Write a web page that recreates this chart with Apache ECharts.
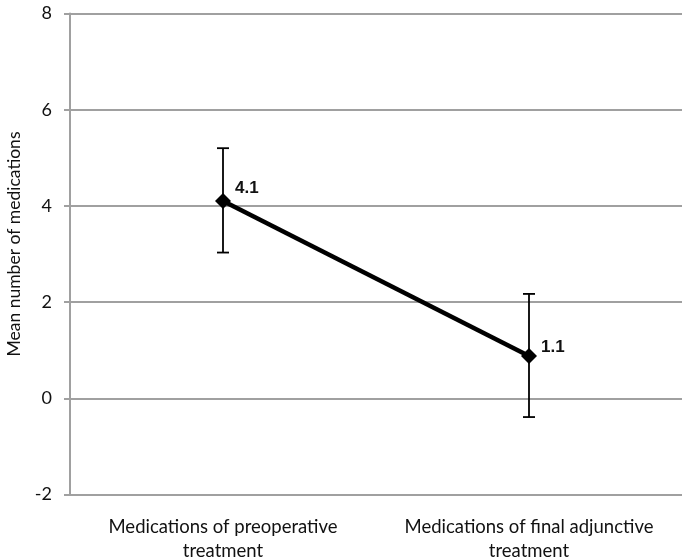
<!DOCTYPE html>
<html>
<head>
<meta charset="utf-8">
<script src="https://cdn.jsdelivr.net/npm/echarts@6/dist/echarts.min.js"></script>
<style>html,body{margin:0;padding:0;background:#fff}#c{width:685px;height:560px}</style>
</head>
<body>
<div id="c"></div>
<script>
var categories = ['Medications of preoperative\ntreatment', 'Medications of final adjunctive\ntreatment'];
var means = [4.1, 0.88];
var meanLabels = ['4.1', '1.1'];
var errLow = [3.03, -0.39];
var errHigh = [5.2, 2.17];

var chart = echarts.init(document.getElementById('c'), null, {renderer: 'canvas'});
var errData = categories.map(function (c, i) { return [i, errLow[i], errHigh[i]]; });
var labelOffsets = [[0, -13], [0, -9]];

chart.setOption({
  animation: false,
  grid: {left: 70, right: 3, top: 13.5, bottom: 65.5, outerBoundsMode: 'none', containLabel: false},
  xAxis: {
    type: 'category',
    data: categories,
    boundaryGap: true,
    axisLine: {show: false},
    axisTick: {show: false},
    axisLabel: {interval: 0, hideOverlap: false, color: '#111', fontFamily: 'Lato, "Open Sans", sans-serif', fontSize: 18.5, lineHeight: 24, margin: 21}
  },
  yAxis: {
    type: 'value',
    min: -2, max: 8, interval: 2,
    name: 'Mean number of medications',
    nameLocation: 'middle',
    nameGap: 47,
    nameTextStyle: {color: '#111', fontFamily: 'Lato, "Open Sans", sans-serif', fontSize: 17.5, padding: [0, 0, 0, 20]},
    axisLine: {show: true, lineStyle: {color: '#a0a0a0', width: 2}},
    axisTick: {show: true, length: 6, lineStyle: {color: '#a0a0a0', width: 2}},
    axisLabel: {color: '#111', fontFamily: 'Lato, "Open Sans", sans-serif', fontSize: 18, margin: 18},
    splitLine: {show: true, lineStyle: {color: '#a0a0a0', width: 2}}
  },
  series: [
    {
      type: 'custom',
      data: errData,
      z: 3,
      renderItem: function (params, api) {
        var x = api.value(0);
        var lo = api.coord([x, api.value(1)]);
        var hi = api.coord([x, api.value(2)]);
        var hw = 6;
        var st = {stroke: '#000', lineWidth: 1.8};
        return {
          type: 'group',
          children: [
            {type: 'line', shape: {x1: lo[0], y1: lo[1], x2: hi[0], y2: hi[1]}, style: st},
            {type: 'line', shape: {x1: lo[0] - hw, y1: lo[1], x2: lo[0] + hw, y2: lo[1]}, style: st},
            {type: 'line', shape: {x1: hi[0] - hw, y1: hi[1], x2: hi[0] + hw, y2: hi[1]}, style: st}
          ]
        };
      }
    },
    {
      type: 'line',
      z: 4,
      data: means.map(function (v, i) {
        return {value: v, label: {formatter: meanLabels[i], offset: labelOffsets[i]}};
      }),
      symbol: 'diamond',
      symbolSize: 16,
      lineStyle: {color: '#000', width: 4.5},
      itemStyle: {color: '#000'},
      label: {
        show: true,
        position: 'right',
        distance: 4,
        color: '#111',
        fontFamily: '"Liberation Sans", Arial, sans-serif',
        fontWeight: 'bold',
        fontSize: 17
      }
    }
  ]
});
</script>
</body>
</html>
